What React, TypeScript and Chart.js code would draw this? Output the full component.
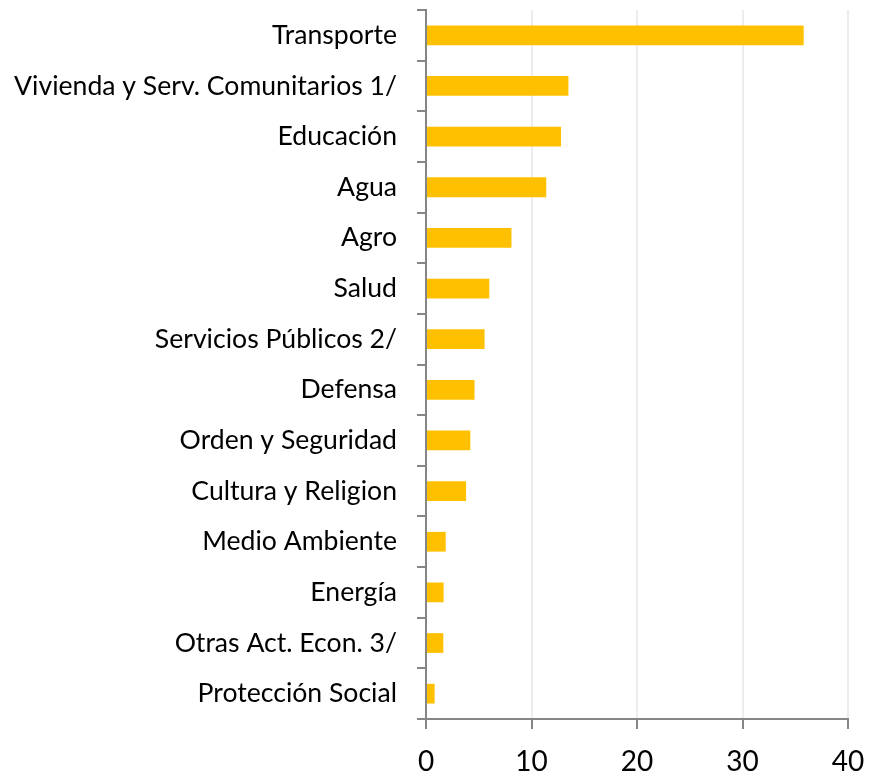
import React, { useEffect, useRef } from "react";
import { Chart, registerables } from "chart.js";

Chart.register(...registerables);

const categories = [
  "Transporte",
  "Vivienda y Serv. Comunitarios 1/",
  "Educación",
  "Agua",
  "Agro",
  "Salud",
  "Servicios Públicos 2/",
  "Defensa",
  "Orden y Seguridad",
  "Cultura y Religion",
  "Medio Ambiente",
  "Energía",
  "Otras Act. Econ. 3/",
  "Protección Social",
];

const values = [35.8, 13.5, 12.8, 11.4, 8.1, 6.0, 5.55, 4.6, 4.2, 3.8, 1.87, 1.67, 1.64, 0.82];

const xMin = 0;
const xMax = 40;
const xStep = 10;

const FONT = "Lato, 'Open Sans', sans-serif";

export default function App() {
  const ref = useRef<HTMLCanvasElement | null>(null);

  useEffect(() => {
    if (!ref.current) return;
    const chart = new Chart(ref.current, {
      type: "bar",
      data: {
        labels: categories,
        datasets: [
          {
            data: values,
            backgroundColor: "#FFC000",
            borderWidth: 0,
            barPercentage: 0.39,
            categoryPercentage: 1,
          },
        ],
      },
      options: {
        indexAxis: "y",
        animation: false,
        responsive: true,
        maintainAspectRatio: false,
        layout: { padding: { top: 10, right: 21, left: 0, bottom: 0 } },
        plugins: {
          legend: { display: false },
          tooltip: { enabled: false },
        },
        scales: {
          x: {
            min: xMin,
            max: xMax,
            ticks: {
              stepSize: xStep,
              color: "#000",
              font: { family: FONT, size: 28 },
              padding: 16,
            },
            grid: {
              color: "#ececec",
              lineWidth: 2,
              tickColor: "#868686",
              tickLength: 10,
            },
            border: { color: "#868686", width: 2 },
            afterFit: (scale: any) => {
              scale.height = 54;
              scale.paddingLeft = 0;
              scale.paddingRight = 0;
            },
          },
          y: {
            ticks: {
              color: "#000",
              font: { family: FONT, size: 26.6 },
              padding: 20,
            },
            grid: {
              offset: true,
              drawOnChartArea: false,
              drawTicks: true,
              tickColor: "#868686",
              tickLength: 9,
              lineWidth: 2,
            },
            border: { color: "#868686", width: 2 },
            afterFit: (scale: any) => {
              scale.width = 426;
              scale.paddingTop = 0;
              scale.paddingBottom = 0;
            },
          },
        },
      },
    });
    return () => chart.destroy();
  }, []);

  return (
    <div style={{ position: "fixed", left: 0, top: 0, width: 869, height: 773, background: "#fff" }}>
      <canvas ref={ref} />
    </div>
  );
}
